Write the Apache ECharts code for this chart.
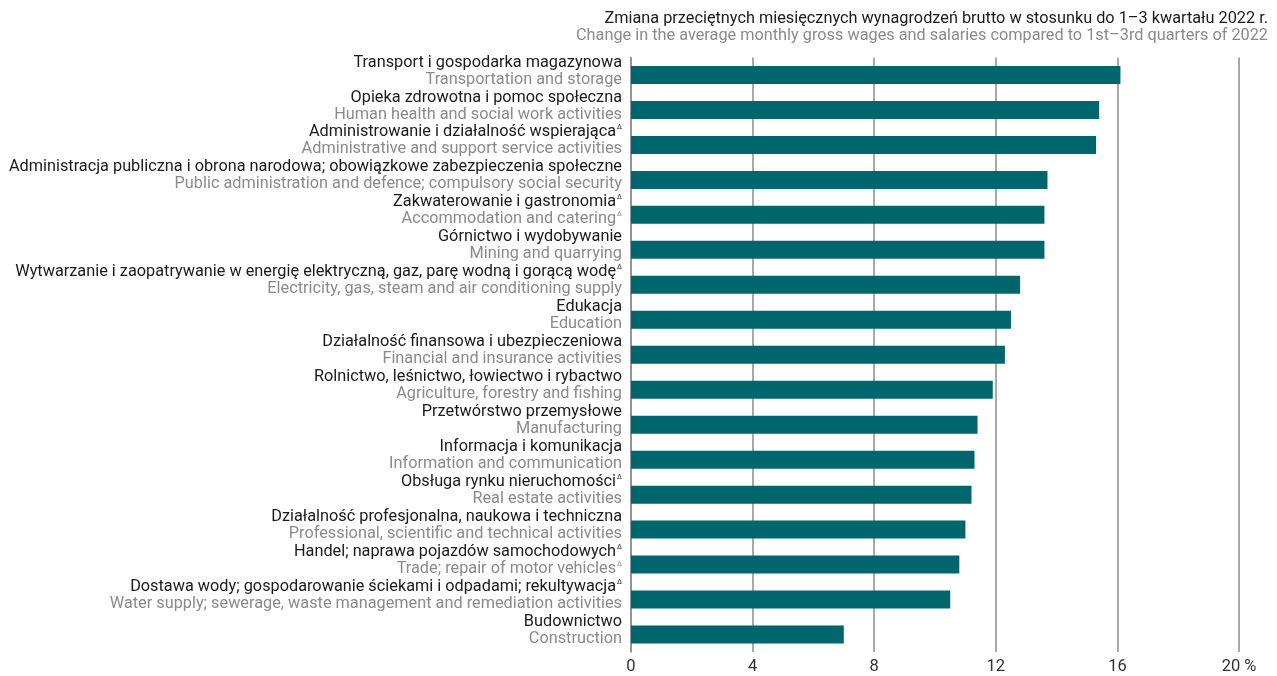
<!DOCTYPE html>
<html><head><meta charset="utf-8">
<script src="https://cdn.jsdelivr.net/npm/echarts@6/dist/echarts.min.js"></script>
<style>html,body{margin:0;padding:0;background:#fff}#c{width:1277px;height:676px}</style>
</head><body><div id="c"></div>
<script>
const namesPl = [
  'Transport i gospodarka magazynowa',
  'Opieka zdrowotna i pomoc społeczna',
  'Administrowanie i działalność wspierająca',
  'Administracja publiczna i obrona narodowa; obowiązkowe zabezpieczenia społeczne',
  'Zakwaterowanie i gastronomia',
  'Górnictwo i wydobywanie',
  'Wytwarzanie i zaopatrywanie w energię elektryczną, gaz, parę wodną i gorącą wodę',
  'Edukacja',
  'Działalność finansowa i ubezpieczeniowa',
  'Rolnictwo, leśnictwo, łowiectwo i rybactwo',
  'Przetwórstwo przemysłowe',
  'Informacja i komunikacja',
  'Obsługa rynku nieruchomości',
  'Działalność profesjonalna, naukowa i techniczna',
  'Handel; naprawa pojazdów samochodowych',
  'Dostawa wody; gospodarowanie ściekami i odpadami; rekultywacja',
  'Budownictwo'
];
const namesEn = [
  'Transportation and storage',
  'Human health and social work activities',
  'Administrative and support service activities',
  'Public administration and defence; compulsory social security',
  'Accommodation and catering',
  'Mining and quarrying',
  'Electricity, gas, steam and air conditioning supply',
  'Education',
  'Financial and insurance activities',
  'Agriculture, forestry and fishing',
  'Manufacturing',
  'Information and communication',
  'Real estate activities',
  'Professional, scientific and technical activities',
  'Trade; repair of motor vehicles',
  'Water supply; sewerage, waste management and remediation activities',
  'Construction'
];
const markPl = [0,0,1,0,1,0,1,0,0,0,0,0,1,0,1,1,0];
const markEn = [0,0,0,0,1,0,0,0,0,0,0,0,0,0,1,0,0];
const values = [16.1,15.4,15.3,13.7,13.6,13.6,12.8,12.5,12.3,11.9,11.4,11.3,11.2,11.0,10.8,10.5,7.0];
const tickValues = [0,4,8,12,16,20];
const titlePl = 'Zmiana przeciętnych miesięcznych wynagrodzeń brutto w stosunku do 1–3 kwartału 2022 r.';
const titleEn = 'Change in the average monthly gross wages and salaries compared to 1st–3rd quarters of 2022';

const FONT = 'Roboto';
const FS = 16.3;
const chart = echarts.init(document.getElementById('c'));
chart.setOption({
  animation: false,
  textStyle: { fontFamily: FONT },
  title: {
    right: 4, top: 5,
    text: '{pl|' + titlePl + '}\n{en|' + titleEn + '}',
    textStyle: {
      fontWeight: 'normal',
      rich: {
        pl: { fontFamily: FONT, fontSize: FS, fontWeight: 'normal', color: '#1a1a1a', lineHeight: 17, align: 'right' },
        en: { fontFamily: FONT, fontSize: FS, fontWeight: 'normal', color: '#8a8a8a', lineHeight: 17, align: 'right' }
      }
    }
  },
  grid: { left: 631, right: 38, top: 57.5, bottom: 24, containLabel: false },
  xAxis: {
    type: 'value', min: 0, max: 20, interval: tickValues[1] - tickValues[0],
    axisLine: { show: false },
    axisTick: { show: false },
    splitLine: { show: true, lineStyle: { color: '#8c8c8c', width: 1.5 } },
    axisLabel: {
      fontFamily: FONT, fontSize: 16.5, color: '#333', margin: 6,
      formatter: v => (v === 20 ? '20 %' : String(v))
    }
  },
  yAxis: {
    type: 'category', inverse: true, data: namesPl,
    axisLine: { show: true, lineStyle: { color: '#8c8c8c', width: 1.5 } },
    axisTick: { show: false },
    axisLabel: {
      margin: 9,
      align: 'right',
      padding: [0, 0, 8, 0],
      formatter: (v, i) => {
        let s = '{pl|' + namesPl[i] + '}' + (markPl[i] ? '{sup|Δ}' : '');
        s += '\n{en|' + namesEn[i] + '}' + (markEn[i] ? '{supg|Δ}' : '');
        return s;
      },
      rich: {
        pl: { fontFamily: FONT, fontSize: FS, color: '#1a1a1a', lineHeight: 17 },
        en: { fontFamily: FONT, fontSize: FS, color: '#8a8a8a', lineHeight: 17 },
        sup: { fontFamily: FONT, fontSize: 7, color: '#1a1a1a', lineHeight: 17, verticalAlign: 'top', padding: [0,0,8,1] },
        supg: { fontFamily: FONT, fontSize: 7, color: '#8a8a8a', lineHeight: 17, verticalAlign: 'top', padding: [0,0,8,1] }
      }
    }
  },
  series: [{
    type: 'bar', data: values, barWidth: 18,
    itemStyle: { color: '#00666e' }
  }]
});
</script></body></html>
